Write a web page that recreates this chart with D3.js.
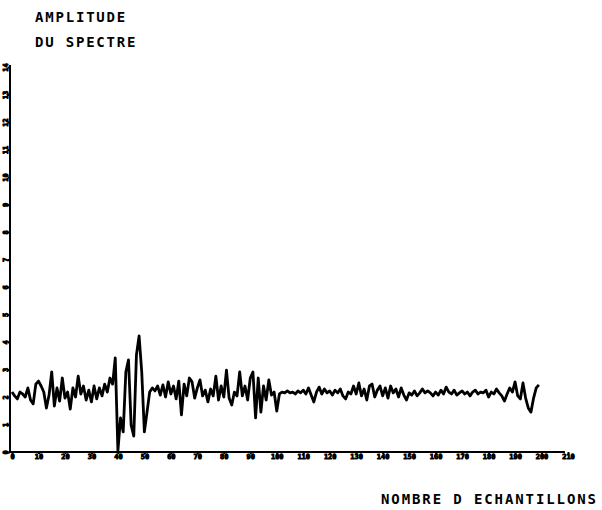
<!DOCTYPE html>
<html>
<head>
<meta charset="utf-8">
<script src="https://cdn.jsdelivr.net/npm/d3@7"></script>
<style>
  body { margin: 0; background: #fff; }
  text { font-family: "DejaVu Sans Mono", monospace; font-weight: bold; fill: #000; }
</style>
</head>
<body>
<div id="chart"></div>
<script>
// spectrum amplitude, one value per sample (step 1 sample)
var amplitude = [
  2.18, 2.04, 1.93, 2.18, 2.11, 2.00, 2.33, 1.89, 1.75, 2.47,
  2.58, 2.40, 2.18, 1.60, 2.07, 2.91, 1.67, 2.33, 1.85, 2.69,
  1.96, 2.18, 1.56, 2.33, 2.00, 2.76, 2.11, 2.40, 1.89, 2.25,
  1.82, 2.40, 1.93, 2.33, 2.04, 2.47, 2.18, 2.69, 2.47, 3.42,
  0.04, 1.24, 0.73, 2.91, 3.35, 0.98, 0.58, 3.53, 4.22, 2.91,
  0.73, 1.45, 2.18, 2.33, 2.22, 2.40, 2.07, 2.44, 2.00, 2.55,
  2.11, 2.40, 1.93, 2.58, 1.35, 2.47, 2.04, 2.69, 2.55, 1.96,
  2.33, 2.62, 2.04, 2.25, 1.82, 2.29, 2.04, 2.76, 1.89, 2.40,
  2.00, 2.98, 1.96, 1.71, 2.18, 2.04, 2.91, 2.04, 2.40, 1.89,
  2.69, 2.91, 1.24, 2.69, 1.45, 2.40, 1.89, 2.62, 2.07, 2.18,
  1.49, 2.11, 2.18, 2.15, 2.22, 2.15, 2.18, 2.11, 2.22, 2.15,
  2.25, 2.11, 2.33, 2.07, 1.82, 2.18, 2.36, 2.11, 2.29, 2.15,
  2.22, 2.07, 2.25, 2.15, 2.29, 2.04, 1.93, 2.18, 2.11, 2.40,
  2.11, 2.51, 2.04, 2.29, 1.89, 2.40, 2.47, 2.00, 2.25, 2.40,
  2.04, 2.33, 1.96, 2.40, 2.15, 2.29, 2.00, 2.33, 2.07, 1.89,
  2.15, 2.07, 2.22, 2.04, 2.15, 2.29, 2.15, 2.22, 2.15, 2.04,
  2.18, 2.07, 2.25, 2.11, 2.36, 2.18, 2.11, 2.25, 2.07, 2.15,
  2.22, 2.11, 2.18, 2.04, 2.18, 2.25, 2.11, 2.18, 2.15, 2.25,
  2.00, 2.18, 2.11, 2.29, 2.15, 2.04, 1.85, 2.11, 2.33, 2.18,
  2.55, 2.04, 1.93, 2.51, 1.96, 1.60, 1.45, 1.96, 2.33, 2.44
];

var xTicks = d3.range(0, 211, 10);
var yTicks = d3.range(0, 15, 1);

var titleLines = ["AMPLITUDE", "DU SPECTRE"];
var xTitle = "NOMBRE D ECHANTILLONS";

var width = 602, height = 510;
var margin = {top: 67, right: 34, bottom: 58, left: 12};

var svg = d3.select("#chart")
    .append("svg")
    .attr("width", width)
    .attr("height", height);

var xScale = d3.scaleLinear()
    .domain([0, 210])
    .range([margin.left, width - margin.right]);

var yScale = d3.scaleLinear()
    .domain([0, 14])
    .range([height - margin.bottom, margin.top]);

var data = amplitude.map(function(v, i) { return {n: i, a: v}; });

// x axis
var xAxis = svg.append("g")
    .attr("transform", "translate(0," + yScale(0) + ")")
    .call(d3.axisBottom(xScale).tickValues(xTicks).tickSize(2).tickPadding(0).tickFormat(d3.format("d")));
xAxis.select(".domain")
    .attr("d", "M" + (margin.left - 2) + ",0H" + (width - margin.right - 3))
    .attr("stroke", "#000").attr("stroke-width", 2);
xAxis.selectAll(".tick line").attr("stroke", "#000").attr("stroke-width", 2);
xAxis.selectAll(".tick text")
    .style("font-size", "7px")
    .style("font-family", "DejaVu Sans Mono")
    .style("font-weight", "bold")
    .attr("fill", "#000")
    .attr("stroke", "#000")
    .attr("stroke-width", 0.9);

// y axis
var yAxis = svg.append("g")
    .attr("transform", "translate(" + (margin.left - 2) + ",0)")
    .call(d3.axisLeft(yScale).tickValues(yTicks).tickSize(2).tickPadding(1).tickFormat(d3.format("d")));
yAxis.select(".domain")
    .attr("d", "M0," + (yScale(0) + 1) + "V" + (margin.top - 2))
    .attr("stroke", "#000").attr("stroke-width", 2);
yAxis.selectAll(".tick line").attr("stroke", "#000").attr("stroke-width", 2);
yAxis.selectAll(".tick text")
    .style("font-size", "7px")
    .style("font-family", "DejaVu Sans Mono")
    .style("font-weight", "bold")
    .attr("fill", "#000")
    .attr("stroke", "#000")
    .attr("stroke-width", 0.9)
    .attr("text-anchor", "middle")
    .attr("transform", "rotate(-90)")
    .attr("x", 0)
    .attr("y", -4);

// spectrum line
var line = d3.line()
    .x(function(d) { return xScale(d.n); })
    .y(function(d) { return yScale(d.a); });

svg.append("path")
    .datum(data)
    .attr("fill", "none")
    .attr("stroke", "#000")
    .attr("stroke-width", 2.8)
    .attr("stroke-linejoin", "round")
    .attr("d", line);

// titles
svg.selectAll(".ytitle")
    .data(titleLines)
    .enter().append("text")
    .attr("class", "ytitle")
    .attr("x", 35)
    .attr("y", function(d, i) { return 22 + i * 25; })
    .style("font-size", "14px")
    .style("letter-spacing", "1.8px")
    .text(function(d) { return d; });

svg.append("text")
    .attr("x", 381)
    .attr("y", 504)
    .style("font-size", "14px")
    .style("letter-spacing", "1.9px")
    .text(xTitle);
</script>
</body>
</html>
